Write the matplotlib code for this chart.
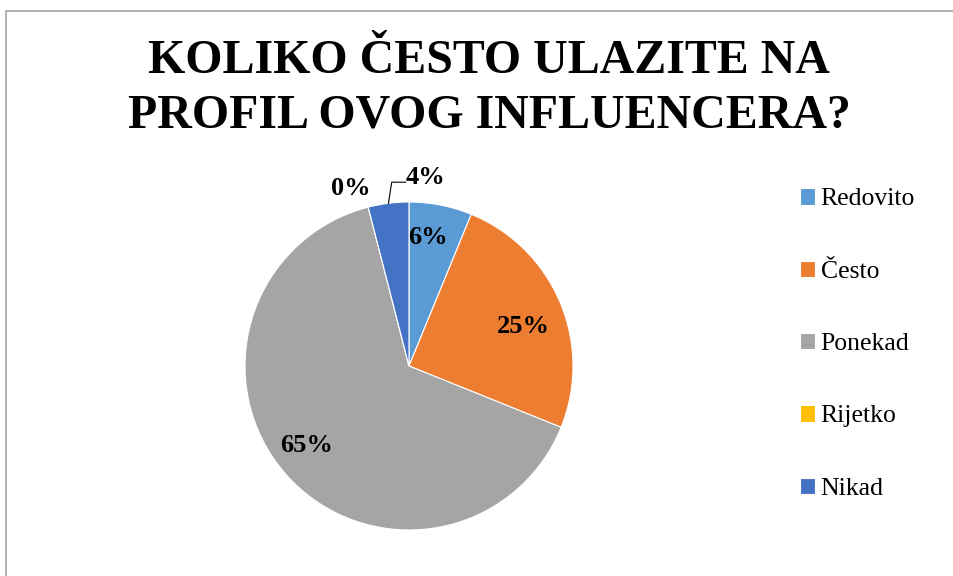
import numpy as np
import matplotlib
matplotlib.use("Agg")
import matplotlib.pyplot as plt
from matplotlib.lines import Line2D

# ---------------------------------------------------------------
# data
# ---------------------------------------------------------------
categories = ['Redovito', 'Često', 'Ponekad', 'Rijetko', 'Nikad']
shares = [6.2, 24.9, 64.9, 0.0, 4.0]
pct_labels = ['6%', '25%', '65%', '0%', '4%']
title = 'KOLIKO ČESTO ULAZITE NA\nPROFIL OVOG INFLUENCERA?'

colors = ['#5B9BD5', '#ED7D31', '#A5A5A5', '#FFC000', '#4472C4']

plt.rcParams['font.family'] = ['Liberation Serif', 'DejaVu Serif']

W, H = 954, 576
fig = plt.figure(figsize=(W / 100, H / 100), dpi=100)

# pie placed so that the centre sits at (409, 366) px with r = 164 px
cx, cy, r_px, lim = 409, 366, 164, 1.25
side = 2 * lim * r_px
ax = fig.add_axes([(cx - side / 2) / W, (H - cy - side / 2) / H, side / W, side / H])

wedges, _ = ax.pie(shares, colors=colors, startangle=90, counterclock=False,
                   radius=1.0, wedgeprops=dict(edgecolor='white', linewidth=0.8))
ax.set_xlim(-lim, lim)
ax.set_ylim(-lim, lim)
ax.set_aspect('equal')
ax.axis('off')

# data labels: inside ones along the mid angle, the small ones outside
label_r = [0.80, 0.76, 0.78, 1.15, 1.16]
label_dx = [-0.04, 0.0, -0.037, -0.07, 0.245]
label_dy = [0.0, -0.055, 0.03, -0.03, 0.0]
for i, (w, txt) in enumerate(zip(wedges, pct_labels)):
    mid = np.deg2rad((w.theta1 + w.theta2) / 2)
    x = label_r[i] * np.cos(mid) + label_dx[i]
    y = label_r[i] * np.sin(mid) + label_dy[i]
    ax.text(x, y, txt, ha='center', va='center', fontsize=19, fontweight='bold')
    if txt == '4%':
        ex, ey = np.cos(mid), np.sin(mid)
        ax.plot([ex, ex + 0.02, x - 0.12], [ey, y - 0.03, y - 0.03],
                color='black', lw=0.8, clip_on=False)

# legend on the right
fig.legend(wedges, categories, loc='center left', bbox_to_anchor=(800 / W, 1 - 344 / H),
           frameon=False, fontsize=18.5, handlelength=0.6, handleheight=0.6,
           handletextpad=0.2, labelspacing=1.95, borderpad=0, borderaxespad=0)

fig.text(489 / W, 1 - 88 / H, title, ha='center', va='center', fontsize=34.5,
         fontweight='bold', linespacing=1.32)

# chart-area border (only top and left edges are inside the picture)
fig.add_artist(Line2D([6.5 / W, 6.5 / W, 1.0], [0.0, 1 - 10.5 / H, 1 - 10.5 / H],
                      transform=fig.transFigure, color='#A6A6A6', lw=1.2))

fig.savefig('out.png', dpi=100)
